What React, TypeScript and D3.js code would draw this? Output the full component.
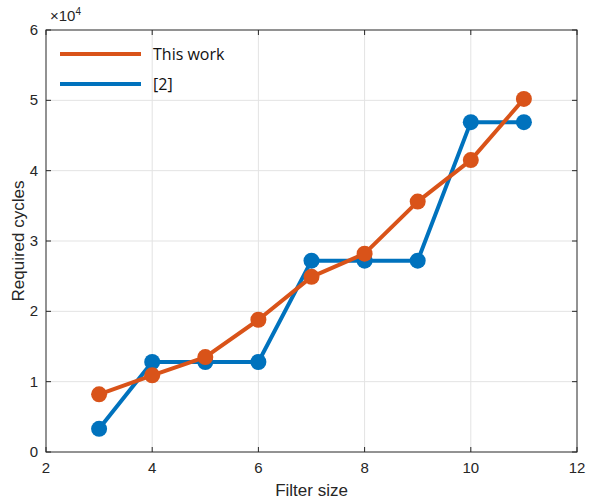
import React, { useEffect, useRef } from 'react';
import * as d3 from 'd3';

// Chart data (y values in units of 10^4 cycles)
const filterSizes = [3, 4, 5, 6, 7, 8, 9, 10, 11];
const thisWork = [0.82, 1.09, 1.35, 1.88, 2.49, 2.82, 3.56, 4.15, 5.02];
const ref2 = [0.33, 1.28, 1.28, 1.28, 2.72, 2.72, 2.72, 4.69, 4.69];
const xTicks = [2, 4, 6, 8, 10, 12];
const yTicks = [0, 1, 2, 3, 4, 5, 6];
const seriesNames = ['This work', '[2]'];
const seriesColors = ['#D95319', '#0072BD'];

const W = 590;
const H = 499;

export default function App() {
  const svgRef = useRef<SVGSVGElement>(null);

  useEffect(() => {
    if (!svgRef.current) return;
    const svg = d3.select(svgRef.current);
    svg.selectAll('*').remove();

    const mg = { left: 46, right: 13, top: 30, bottom: 47 };
    const x = d3.scaleLinear().domain([2, 12]).range([mg.left, W - mg.right]);
    const y = d3.scaleLinear().domain([0, 6]).range([H - mg.bottom, mg.top]);
    const axisColor = '#262626';
    const font = 'Helvetica, Arial, "Liberation Sans", sans-serif';

    svg.append('rect').attr('width', W).attr('height', H).attr('fill', '#fff');

    // grid
    const grid = svg.append('g').attr('stroke', '#e3e3e3').attr('stroke-width', 1);
    xTicks.slice(1, -1).forEach(t => {
      grid.append('line').attr('x1', x(t)).attr('x2', x(t)).attr('y1', y(0)).attr('y2', y(6));
    });
    yTicks.slice(1, -1).forEach(t => {
      grid.append('line').attr('x1', x(2)).attr('x2', x(12)).attr('y1', y(t)).attr('y2', y(t));
    });

    // series — [2] first so "This work" sits on top, as in the reference
    const line = d3.line<number>().x((_, i) => x(filterSizes[i])).y(d => y(d));
    [ref2, thisWork].forEach((vals, k) => {
      const c = seriesColors[1 - k];
      svg.append('path').datum(vals).attr('d', line).attr('fill', 'none')
        .attr('stroke', c).attr('stroke-width', 4).attr('stroke-linejoin', 'round');
      svg.append('g').selectAll('circle').data(vals).enter().append('circle')
        .attr('cx', (_, i) => x(filterSizes[i])).attr('cy', d => y(d))
        .attr('r', 8).attr('fill', c);
    });

    // box
    svg.append('rect').attr('x', x(2)).attr('y', y(6)).attr('width', x(12) - x(2)).attr('height', y(0) - y(6))
      .attr('fill', 'none').attr('stroke', axisColor).attr('stroke-width', 1);

    // ticks
    const tk = svg.append('g').attr('stroke', axisColor).attr('stroke-width', 1);
    xTicks.forEach(t => {
      tk.append('line').attr('x1', x(t)).attr('x2', x(t)).attr('y1', y(0)).attr('y2', y(0) - 5);
      tk.append('line').attr('x1', x(t)).attr('x2', x(t)).attr('y1', y(6)).attr('y2', y(6) + 5);
    });
    yTicks.forEach(t => {
      tk.append('line').attr('x1', x(2)).attr('x2', x(2) + 5).attr('y1', y(t)).attr('y2', y(t));
      tk.append('line').attr('x1', x(12)).attr('x2', x(12) - 5).attr('y1', y(t)).attr('y2', y(t));
    });

    // tick labels
    xTicks.forEach(t => {
      svg.append('text').attr('x', x(t)).attr('y', y(0) + 21).attr('text-anchor', 'middle')
        .attr('font-family', font).attr('font-size', 15).attr('fill', axisColor).text(t);
    });
    yTicks.forEach(t => {
      svg.append('text').attr('x', x(2) - 8).attr('y', y(t) + 5).attr('text-anchor', 'end')
        .attr('font-family', font).attr('font-size', 15).attr('fill', axisColor).text(t);
    });

    // exponent
    const ex = svg.append('text').attr('x', x(2) + 4).attr('y', y(6) - 9)
      .attr('font-family', font).attr('font-size', 15).attr('fill', axisColor);
    ex.append('tspan').text('×10');
    ex.append('tspan').attr('font-size', 10).attr('dy', -6).text('4');

    // axis titles
    svg.append('text').attr('x', (x(2) + x(12)) / 2).attr('y', H - 3).attr('text-anchor', 'middle')
      .attr('font-family', font).attr('font-size', 17).attr('fill', axisColor).text('Filter size');
    svg.append('text').attr('transform', `translate(24,${(y(0) + y(6)) / 2}) rotate(-90)`)
      .attr('text-anchor', 'middle').attr('font-family', font).attr('font-size', 17)
      .attr('fill', axisColor).text('Required cycles');

    // legend
    seriesNames.forEach((name, i) => {
      const ly = 54 + i * 30;
      svg.append('line').attr('x1', 60).attr('x2', 141).attr('y1', ly).attr('y2', ly)
        .attr('stroke', seriesColors[i]).attr('stroke-width', 4);
      svg.append('text').attr('x', 153).attr('y', ly + 6)
        .attr('font-family', '"Open Sans", sans-serif').attr('font-size', 16).attr('fill', '#111')
        .text(name);
    });
  }, []);

  return (
    <div style={{ position: 'absolute', left: 0, top: 0 }}>
      <svg ref={svgRef} width={W} height={H} />
    </div>
  );
}
